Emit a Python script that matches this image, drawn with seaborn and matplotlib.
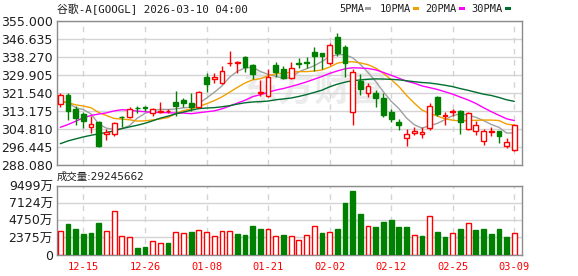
import numpy as np
import pandas as pd
import matplotlib
matplotlib.use("Agg")
import matplotlib.pyplot as plt
import seaborn as sns
from matplotlib.patches import Rectangle

# ---------------- data ----------------
title = "谷歌-A[GOOGL] 2026-03-10 04:00"
volume_caption = "成交量:29245662"

dates = ["12-10", "12-11", "12-12", "12-15", "12-16", "12-17", "12-18", "12-19", "12-22", "12-23",
         "12-24", "12-26", "12-29", "12-30", "12-31", "01-02", "01-05", "01-06", "01-07", "01-08",
         "01-09", "01-12", "01-13", "01-14", "01-15", "01-16", "01-20", "01-21", "01-22", "01-23",
         "01-26", "01-27", "01-28", "01-29", "01-30", "02-02", "02-03", "02-04", "02-05", "02-06",
         "02-09", "02-10", "02-11", "02-12", "02-13", "02-17", "02-18", "02-19", "02-20", "02-23",
         "02-24", "02-25", "02-26", "02-27", "03-02", "03-03", "03-04", "03-05", "03-06", "03-09"]

open_ = [316.5, 320.4, 313.9, 311.5, 305.5, 308.0, 302.3, 302.1, 310.3, 310.0,
         314.6, 314.8, 311.9, 312.6, 312.8, 317.0, 318.1, 316.7, 314.7, 329.1,
         327.8, 326.2, 335.2, 335.3, 338.0, 334.7, 321.3, 320.1, 334.7, 332.8,
         328.2, 335.3, 335.9, 340.5, 340.0, 335.4, 347.4, 343.1, 312.7, 327.0,
         321.6, 321.5, 319.0, 312.4, 308.1, 300.4, 302.9, 302.3, 305.0, 319.6,
         310.9, 312.5, 312.9, 304.6, 303.7, 299.0, 303.3, 303.5, 296.8, 294.8]
high = [321.6, 321.2, 315.3, 312.5, 310.9, 308.5, 304.5, 307.8, 310.5, 315.0,
        315.2, 315.3, 314.4, 317.0, 314.0, 322.4, 319.3, 321.3, 322.3, 330.8,
        330.8, 334.2, 340.8, 336.5, 338.5, 334.9, 327.6, 332.4, 335.7, 333.9,
        335.9, 337.7, 338.0, 342.7, 340.3, 344.6, 349.6, 343.9, 332.4, 330.5,
        326.2, 322.7, 321.6, 313.9, 309.2, 304.7, 305.5, 305.5, 316.6, 320.1,
        312.7, 313.9, 313.5, 312.6, 308.3, 304.7, 305.5, 303.7, 300.6, 307.0]
low = [315.0, 308.9, 306.3, 305.0, 302.9, 296.3, 299.7, 301.2, 305.8, 309.7,
       312.3, 313.2, 310.9, 312.0, 312.0, 310.9, 314.7, 313.2, 314.3, 322.1,
       325.9, 325.8, 333.9, 330.8, 331.3, 327.8, 320.0, 319.6, 328.8, 327.8,
       327.8, 333.1, 333.1, 331.6, 332.4, 334.7, 338.5, 328.8, 306.7, 320.4,
       319.6, 315.0, 310.1, 307.7, 304.0, 296.6, 301.7, 300.4, 304.4, 310.9,
       306.6, 310.9, 302.4, 304.0, 301.7, 297.1, 301.2, 298.3, 295.7, 294.3]
close = [320.4, 312.9, 309.7, 308.3, 307.0, 296.8, 303.2, 307.3, 310.0, 313.8,
         314.2, 314.2, 313.8, 313.2, 313.2, 315.5, 316.9, 315.0, 322.1, 325.8,
         328.7, 331.9, 335.6, 335.7, 333.6, 330.4, 322.0, 328.8, 331.3, 328.5,
         333.1, 335.0, 335.6, 338.5, 338.5, 343.9, 340.0, 335.4, 331.3, 323.3,
         324.5, 319.3, 311.3, 309.3, 306.3, 302.4, 303.8, 303.3, 315.2, 311.6,
         311.3, 312.9, 307.8, 311.9, 306.6, 303.8, 303.6, 301.2, 298.6, 306.6]

# closes of the 29 sessions before the window (estimated from the moving-average lines)
warmup_close = [274, 281, 281, 284, 277, 284, 285, 278, 290, 291,
                287, 279, 276, 285, 284, 292, 289, 299, 318, 323,
                320, 320, 314, 315, 319, 317, 321, 313, 317]

# volume in 万 shares
volume_wan = [3259, 4223, 3534, 2846, 2984, 4361, 3259, 6013, 2525, 2387,
              872, 1056, 1882, 1561, 1607, 3121, 2984, 3121, 3351, 3121,
              2525, 3259, 3259, 2846, 2708, 3947, 3534, 3534, 2525, 2708,
              2525, 2020, 2662, 3902, 2984, 3121, 3534, 7115, 8767, 5600,
              3902, 3810, 4498, 4774, 3810, 3810, 2662, 2570, 5279, 3121,
              2433, 2984, 3534, 4361, 3397, 3534, 2846, 3534, 2433, 2925]
volume_up = [1, 0, 0, 0, 0, 0, 1, 1, 1, 1,
             0, 0, 1, 1, 0, 1, 1, 0, 1, 1,
             1, 1, 1, 0, 0, 0, 0, 1, 1, 0,
             1, 1, 1, 1, 0, 1, 0, 0, 0, 0,
             1, 0, 0, 0, 0, 0, 1, 0, 1, 0,
             0, 1, 0, 1, 0, 0, 0, 0, 0, 1]

ma_windows = [5, 10, 20, 30]
ma_labels = ["5PMA", "10PMA", "20PMA", "30PMA"]
ma_colors = ["#a0a0a0", "#f0a000", "#ff00ff", "#006e2e"]

price_ticks = [288.080, 296.445, 304.810, 313.175, 321.540, 329.905, 338.270, 346.635, 355.000]
vol_ticks = [0, 2375, 4750, 7124, 9499]
vol_tick_labels = ["0", "2375万", "4750万", "7124万", "9499万"]
date_ticks = ["12-15", "12-26", "01-08", "01-21", "02-02", "02-12", "02-25", "03-09"]

# ---------------- style ----------------
sns.set_style("white")
plt.rcParams['font.family'] = ['DejaVu Sans', 'Noto Sans CJK SC']
RED = "#ff0000"
GREEN = "#008000"
GRID = "#d4d4d4"
FRAME = "#8c8c8c"
TXT = "#1e1e1e"
MONO = ['DejaVu Sans Mono', 'Noto Sans CJK SC']

W, H = 578, 276
fig = plt.figure(figsize=(W / 100, H / 100), dpi=100)
fig.patch.set_facecolor("white")


def rect(l, t, r, b):
    return [l / W, 1 - b / H, (r - l) / W, (b - t) / H]


axp = fig.add_axes(rect(57, 21, 522, 164.5))
axv = fig.add_axes(rect(57, 185.7, 522, 254.7), sharex=axp)

df = pd.DataFrame(dict(date=dates, open=open_, high=high, low=low, close=close,
                       vol=volume_wan, vup=volume_up))
df["x"] = np.arange(len(df))
n_warm = len(warmup_close)
full_close = pd.Series(warmup_close + close, dtype=float)

# moving averages
for w, lab, col in zip(ma_windows, ma_labels, ma_colors):
    ma = full_close.rolling(w).mean().iloc[n_warm:].to_numpy()
    sns.lineplot(x=df["x"].to_numpy(), y=ma, ax=axp, color=col, lw=1.0,
                 legend=False, zorder=2)

# candles
up = (df["close"] >= df["open"]).to_numpy()
edge = np.where(up, RED, GREEN)
face = np.where(up, "white", GREEN)
body_lo = np.minimum(df["open"], df["close"]).to_numpy()
body_h = np.maximum(np.abs(df["close"] - df["open"]).to_numpy(), 0.12)
bw = 0.62
axp.vlines(df["x"], df["low"], df["high"], colors=edge, lw=1.0, zorder=3)
axp.bar(df["x"], body_h, bottom=body_lo, width=bw, color=face, edgecolor=edge,
        linewidth=1.0, zorder=4)

# watermark
axp.text(0.555, 0.52, "东方财富", transform=axp.transAxes, ha="center", va="center",
         fontsize=26, color="#ececec", fontweight="bold", style="italic",
         family=['Noto Sans CJK SC'], zorder=0.5)

# volume
vup = df["vup"].to_numpy().astype(bool)
axv.bar(df["x"], df["vol"], width=bw, color=np.where(vup, "white", GREEN),
        edgecolor=np.where(vup, RED, GREEN), linewidth=1.0, zorder=3)

# axes formatting
x_lo, x_hi = -0.43, 60.0
tick_idx = [dates.index(d) for d in date_ticks]
for ax in (axp, axv):
    ax.set_xlim(x_lo, x_hi)
    ax.set_xlabel("")
    ax.set_ylabel("")
    ax.set_facecolor("white")
    for s in ax.spines.values():
        s.set_visible(True)
        s.set_color(FRAME)
        s.set_linewidth(1.0)
    ax.set_xticks(tick_idx)
    ax.grid(True, axis="y", color=GRID, lw=1.0, ls="-", zorder=0)
    ax.grid(True, axis="x", color=GRID, lw=1.0, ls=(0, (4, 4)), zorder=0)
    ax.set_axisbelow(True)
    ax.tick_params(length=0)

axp.set_ylim(price_ticks[0], price_ticks[-1])
axp.set_yticks(price_ticks)
axp.set_yticklabels([f"{v:.3f}" for v in price_ticks], fontsize=9, color=TXT)
axp.tick_params(axis="y", pad=3)
axp.tick_params(axis="x", labelbottom=False)

axv.set_ylim(0, vol_ticks[-1])
axv.set_yticks(vol_ticks)
axv.set_yticklabels(vol_tick_labels, fontsize=9, color=TXT)
axv.tick_params(axis="y", pad=3)
axv.set_xticklabels(date_ticks, fontsize=7.5, color=RED, family=MONO)
axv.tick_params(axis="x", pad=5)

# title, legend, caption
fig.text(57 / W, 1 - 9 / H, title, ha="left", va="center", fontsize=7.8,
         color=TXT, family=MONO)
leg_text_x = [339.3, 380, 425.3, 471.7]
leg_mark_x = [365.3, 412.5, 459, 505]
for lab, col, tx, mx in zip(ma_labels, ma_colors, leg_text_x, leg_mark_x):
    fig.text(tx / W, 1 - 9.2 / H, lab, ha="left", va="center", fontsize=7.5,
             color=TXT, family=MONO)
    fig.add_artist(Rectangle((mx / W, 1 - 9.6 / H), 6 / W, 3 / H,
                             transform=fig.transFigure, facecolor=col,
                             edgecolor="none"))
fig.text(57 / W, 1 - 177 / H, volume_caption, ha="left", va="center",
         fontsize=7.5, color=TXT)

fig.savefig("out.png", dpi=100, facecolor="white")
